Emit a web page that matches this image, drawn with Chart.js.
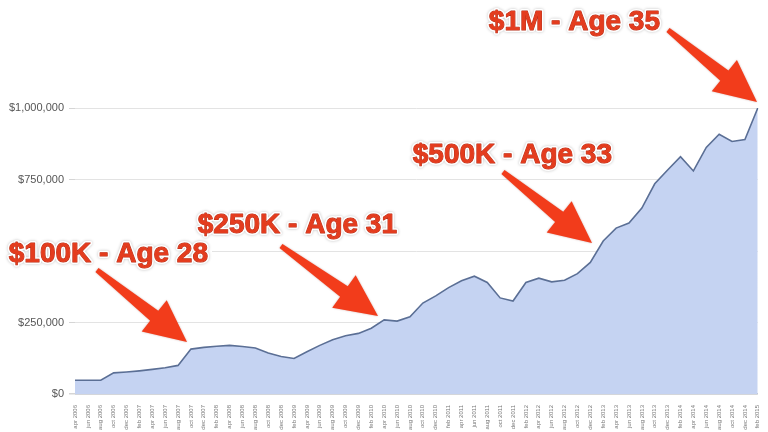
<!DOCTYPE html>
<html>
<head>
<meta charset="utf-8">
<script src="https://cdn.jsdelivr.net/npm/chart.js@4/dist/chart.umd.min.js"></script>
<style>
  html, body { margin: 0; padding: 0; background: #ffffff; }
  #wrap { width: 768px; height: 432px; }
</style>
</head>
<body>
<div id="wrap"><canvas id="c" width="768" height="432"></canvas></div>
<script>
const months = [
  "apr 2006","jun 2006","aug 2006","oct 2006","dec 2006",
  "feb 2007","apr 2007","jun 2007","aug 2007","oct 2007","dec 2007",
  "feb 2008","apr 2008","jun 2008","aug 2008","oct 2008","dec 2008",
  "feb 2009","apr 2009","jun 2009","aug 2009","oct 2009","dec 2009",
  "feb 2010","apr 2010","jun 2010","aug 2010","oct 2010","dec 2010",
  "feb 2011","apr 2011","jun 2011","aug 2011","oct 2011","dec 2011",
  "feb 2012","apr 2012","jun 2012","aug 2012","oct 2012","dec 2012",
  "feb 2013","apr 2013","jun 2013","aug 2013","oct 2013","dec 2013",
  "feb 2014","apr 2014","jun 2014","aug 2014","oct 2014","dec 2014",
  "feb 2015"
];

const netWorth = [
  48000,48000,48000,74000,77000,81000,86000,92000,100000,157000,
  163000,167000,170000,166000,161000,143000,131000,124000,148000,170000,
  190000,204000,212000,230000,259000,255000,270000,318000,343000,372000,
  396000,412000,390000,336000,325000,390000,405000,392000,398000,421000,
  460000,535000,580000,598000,650000,735000,783000,830000,780000,862000,
  908000,883000,890000,1000000
];

const yTicks = [0, 250000, 500000, 750000, 1000000];

const annotationTexts = ["$1M - Age 35", "$500K - Age 33", "$250K - Age 31", "$100K - Age 28"];

function drawArrow(ctx, sx, sy, tx, ty) {
  const dx = tx - sx, dy = ty - sy;
  const len = Math.sqrt(dx*dx + dy*dy);
  const ux = dx/len, uy = dy/len;
  const nx = -uy, ny = ux;
  const L = 42, H = 20, w0 = 2.5, w1 = 6.5;
  const bx = tx - ux*L, by = ty - uy*L;
  ctx.beginPath();
  ctx.moveTo(sx + nx*w0, sy + ny*w0);
  ctx.lineTo(bx + nx*w1, by + ny*w1);
  ctx.lineTo(bx + nx*H, by + ny*H);
  ctx.lineTo(tx, ty);
  ctx.lineTo(bx - nx*H, by - ny*H);
  ctx.lineTo(bx - nx*w1, by - ny*w1);
  ctx.lineTo(sx - nx*w0, sy - ny*w0);
  ctx.closePath();
  ctx.fill();
}

const annotationPlugin = {
  id: 'annot',
  afterDraw(chart) {
    const ctx = chart.ctx;
    ctx.save();
    ctx.fillStyle = '#ffffff';
    ctx.fillRect(0, 236, 212, 38);

    ctx.fillStyle = '#f23c1b';
    ctx.shadowColor = 'rgba(120,20,0,0.35)';
    ctx.shadowBlur = 2;
    drawArrow(ctx, 668, 30, 757, 102);
    drawArrow(ctx, 503, 172, 592, 243);
    drawArrow(ctx, 281, 246, 378, 316);
    drawArrow(ctx, 97, 270, 187, 342);

    const pos = [[660, 30], [612, 163], [397, 233], [208, 262]];
    ctx.font = 'bold 28px "Liberation Sans", Arial, sans-serif';
    ctx.textAlign = 'right';
    ctx.textBaseline = 'alphabetic';
    ctx.lineJoin = 'round';
    annotationTexts.forEach((t, i) => {
      const [x, y] = pos[i];
      ctx.shadowColor = 'rgba(0,0,0,0.25)';
      ctx.shadowBlur = 3;
      ctx.lineWidth = 4;
      ctx.strokeStyle = '#ffffff';
      ctx.strokeText(t, x, y);
      ctx.shadowBlur = 0;
      ctx.lineWidth = 1;
      ctx.strokeStyle = '#b8301a';
      ctx.strokeText(t, x, y);
      ctx.fillStyle = '#e43c1e';
      ctx.fillText(t, x, y);
    });
    ctx.restore();
  }
};

new Chart(document.getElementById('c'), {
  type: 'line',
  data: {
    labels: months,
    datasets: [{
      data: netWorth,
      borderColor: '#5b6f95',
      borderWidth: 1.6,
      backgroundColor: '#c5d3f2',
      fill: 'origin',
      pointRadius: 0,
      tension: 0
    }]
  },
  options: {
    responsive: false,
    animation: false,
    devicePixelRatio: 1,
    layout: { padding: { top: 108, right: 6, left: 0, bottom: 0 } },
    plugins: { legend: { display: false }, tooltip: { enabled: false } },
    scales: {
      x: {
        grid: { display: false },
        border: { display: false },
        ticks: {
          autoSkip: false,
          minRotation: 90,
          maxRotation: 90,
          padding: 3,
          color: '#777',
          font: { family: '"Liberation Sans", Arial, sans-serif', size: 6 }
        },
        afterFit(scale) { scale.height = 38; }
      },
      y: {
        min: 0,
        max: 1000000,
        afterBuildTicks(scale) { scale.ticks = yTicks.map(v => ({ value: v })); },
        grid: {
          color: (c) => c.tick && c.tick.value === 0 ? '#a9adb5' : '#e3e3e3',
          lineWidth: (c) => c.tick && c.tick.value === 0 ? 1.5 : 1,
          tickLength: 6,
          tickColor: '#d5d5d5'
        },
        border: { display: false },
        ticks: {
          padding: 5,
          color: '#555',
          font: { family: '"Liberation Sans", Arial, sans-serif', size: 11 },
          callback: (v) => '$' + Number(v).toLocaleString('en-US')
        },
        afterFit(scale) { scale.width = 75; }
      }
    }
  },
  plugins: [annotationPlugin]
});
</script>
</body>
</html>
